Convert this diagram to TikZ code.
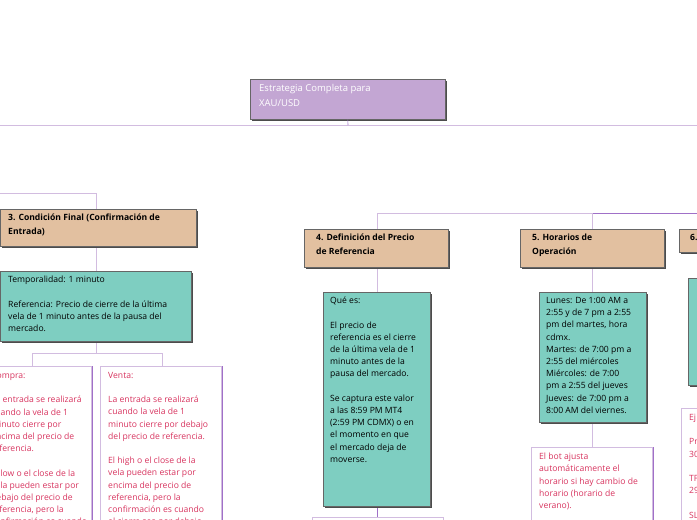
\documentclass[tikz,border=0pt]{standalone}
\usepackage{fontspec}
\setmainfont{Open Sans}
\usetikzlibrary{shadows}
\definecolor{rootc}{HTML}{C3A6D3}
\definecolor{tanc}{HTML}{E2C0A0}
\definecolor{tealc}{HTML}{7ECEC1}
\definecolor{linec}{HTML}{D2BCE0}
\definecolor{lined}{HTML}{A070C8}
\definecolor{redt}{HTML}{D8345F}
\definecolor{bord}{HTML}{666666}
\tikzset{
 x=1pt,y=-1pt,
 box/.style={draw=bord,line width=0.6pt,anchor=north west,inner sep=0pt,
   drop shadow={shadow xshift=1.6pt,shadow yshift=-1.6pt,fill=black!70,opacity=1}},
 rootbox/.style={box,fill=rootc},
 tanbox/.style={box,fill=tanc},
 tealbox/.style={box,fill=tealc},
 notebox/.style={draw=linec,line width=0.8pt,fill=white,anchor=north west,inner sep=0pt,
   drop shadow={shadow xshift=1.2pt,shadow yshift=0pt,fill=lined,opacity=1}},
 txt/.style={anchor=north west,inner sep=0pt,align=left,font=\fontsize{8.6}{12.2}\selectfont},
 htxt/.style={txt,font=\fontsize{8.6}{13.5}\selectfont\bfseries},
 conn/.style={draw=linec,line width=0.9pt},
}
\begin{document}
\begin{tikzpicture}
\useasboundingbox (0,0) rectangle (697,520);
\clip (0,0) rectangle (697,520);
% connectors
\draw[conn] (0,125) -- (697,125);
\draw[conn] (0,193) -- (96,193) -- (96,209);
\draw[conn] (377,229) -- (377,213) -- (697,213);
\draw[draw=lined,line width=0.9pt] (592,213) -- (697,213);
\draw[conn] (592,213) -- (592,229);
\draw[conn] (96,246) -- (96,271);
\draw[conn] (96,341) -- (96,353);
\draw[conn] (32,366) -- (32,353) -- (162,353) -- (162,366);
\draw[conn] (377,267) -- (377,292);
\draw[draw=lined,line width=0.9pt] (377,506) -- (377,517);
\draw[conn] (312,525) -- (312,517) -- (443,517) -- (443,525);
\draw[conn] (592,267) -- (592,292);
\draw[conn] (592,422) -- (592,447);
% root
\node[rootbox,minimum width=195,minimum height=40] (root) at (250,79) {};
\draw[draw=lined,line width=0.6pt] (root.south) -- (348,125);
\node[txt,text=white,font=\fontsize{9.5}{15}\selectfont] (roott) at (259,84) {Estrategia Completa para\\XAU/USD};
% branch 3
\node[tanbox,minimum width=196,minimum height=37] (b3) at (0,209) {};
\node[htxt] (b3t) at (8,214) {3. Condición Final (Confirmación de\\Entrada)};
\node[tealbox,minimum width=191,minimum height=70] (t3) at (0,271) {};
\node[txt] (t3t) at (8,276) {Temporalidad: 1 minuto\\[12.2pt]Referencia: Precio de cierre de la última\\vela de 1 minuto antes de la pausa del\\mercado.};
\node[notebox,minimum width=106,minimum height=170] (c3) at (-15,366) {};
\node[txt,text=redt] (c3t) at (-9,372) {Compra:\\[12.2pt]La entrada se realizará\\cuando la vela de 1\\minuto cierre por\\encima del precio de\\referencia.\\[12.2pt]El low o el close de la\\vela pueden estar por\\debajo del precio de\\referencia, pero la\\confirmación es cuando};
\node[notebox,minimum width=121,minimum height=170] (v3) at (100,366) {};
\node[txt,text=redt] (v3t) at (108,372) {Venta:\\[12.2pt]La entrada se realizará\\cuando la vela de 1\\minuto cierre por debajo\\del precio de referencia.\\[12.2pt]El high o el close de la\\vela pueden estar por\\encima del precio de\\referencia, pero la\\confirmación es cuando\\el cierre sea por debajo.};
% branch 4
\node[tanbox,minimum width=144,minimum height=38] (b4) at (304,229) {};
\node[htxt] (b4t) at (316,234) {4. Definición del Precio\\de Referencia};
\node[tealbox,minimum width=107,minimum height=214] (t4) at (323,292) {};
\node[txt] (t4t) at (330,297) {Qué es:\\[12.2pt]El precio de\\referencia es el cierre\\de la última vela de 1\\minuto antes de la\\pausa del mercado.\\[12.2pt]Se captura este valor\\a las 8:59 PM MT4\\(2:59 PM CDMX) o en\\el momento en que\\el mercado deja de\\moverse.};
% branch 5
\node[tanbox,minimum width=144,minimum height=38] (b5) at (520,229) {};
\node[htxt] (b5t) at (532,234) {5. Horarios de\\Operación};
\node[tealbox,minimum width=107,minimum height=130] (t5) at (539,292) {};
\node[txt] (t5t) at (546,297) {Lunes: De 1:00 AM a\\2:55 y de 7 pm a 2:55\\pm del martes, hora\\cdmx.\\Martes: de 7:00 pm a\\2:55 del miércoles\\Miércoles: de 7:00\\pm a 2:55 del jueves\\Jueves: de 7:00 pm a\\8:00 AM del viernes.};
\node[notebox,minimum width=121,minimum height=100] (n5) at (531,447) {};
\node[txt,text=redt] (n5t) at (539,453) {El bot ajusta\\automáticamente el\\horario si hay cambio de\\horario (horario de\\verano).};
% branch 6 (cropped)
\node[tanbox,minimum width=60,minimum height=23] (b6) at (679,229) {};
\node[htxt] (b6t) at (690,234) {6.};
\node[tealbox,minimum width=60,minimum height=107] (t6) at (688,278) {};
\node[notebox,minimum width=60,minimum height=150] (n6) at (681,408) {};
\node[txt,text=redt] (n6t) at (689,414) {Ej\\[12.2pt]Pr\\30\\[12.2pt]TF\\29\\[12.2pt]SL};
\end{tikzpicture}
\end{document}
